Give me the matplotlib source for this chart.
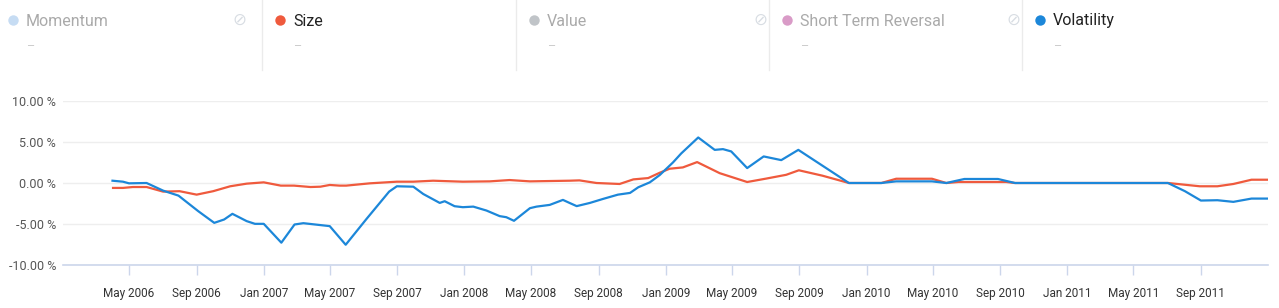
import matplotlib
matplotlib.use("Agg")
import matplotlib.pyplot as plt
import matplotlib.dates as mdates
import pandas as pd

# Size factor (red) - cumulative return in %
size_dates = ["2006-04-02", "2006-04-20", "2006-05-08", "2006-06-02", "2006-07-02", "2006-08-01",
              "2006-09-01", "2006-10-01", "2006-11-01", "2006-12-01", "2007-01-01", "2007-02-01",
              "2007-02-25", "2007-03-27", "2007-04-14", "2007-05-01", "2007-05-19", "2007-05-31",
              "2007-07-13", "2007-08-31", "2007-09-30", "2007-11-05", "2007-12-29", "2008-02-16",
              "2008-03-23", "2008-04-29", "2008-07-10", "2008-07-28", "2008-08-28", "2008-10-09",
              "2008-11-03", "2008-11-30", "2008-12-21", "2009-01-08", "2009-02-01", "2009-02-27",
              "2009-04-09", "2009-05-29", "2009-07-02", "2009-08-08", "2009-08-31", "2009-10-13",
              "2009-11-30", "2010-01-28", "2010-02-24", "2010-04-30", "2010-05-26", "2010-06-17",
              "2010-09-12", "2010-09-28", "2011-07-03", "2011-08-30", "2011-10-01", "2011-10-30",
              "2011-12-02", "2011-12-31"]
size_values = [-0.60, -0.60, -0.49, -0.49, -1.05, -1.00,
               -1.42, -1.00, -0.40, -0.08, 0.08, -0.32,
               -0.32, -0.49, -0.45, -0.24, -0.32, -0.32,
               -0.04, 0.16, 0.16, 0.28, 0.16, 0.20,
               0.36, 0.20, 0.28, 0.32, 0.00, -0.12,
               0.44, 0.60, 1.25, 1.74, 1.90, 2.55,
               1.20, 0.12, 0.53, 1.00, 1.55, 0.89,
               0.00, 0.00, 0.52, 0.52, 0.00, 0.12,
               0.12, 0.00, 0.00, -0.40, -0.40, -0.12,
               0.40, 0.40]

# Volatility factor (blue)
vol_dates = ["2006-04-01", "2006-04-20", "2006-05-01", "2006-06-02", "2006-07-02", "2006-07-30",
             "2006-09-04", "2006-10-03", "2006-10-21", "2006-11-05", "2006-12-01", "2006-12-16",
             "2007-01-01", "2007-02-02", "2007-02-26", "2007-03-14", "2007-05-01", "2007-05-30",
             "2007-07-07", "2007-08-17", "2007-08-31", "2007-09-30", "2007-10-18", "2007-11-17",
             "2007-11-26", "2007-12-14", "2007-12-29", "2008-01-17", "2008-02-10", "2008-03-05",
             "2008-03-17", "2008-03-31", "2008-04-29", "2008-05-11", "2008-06-04", "2008-06-28",
             "2008-07-10", "2008-07-23", "2008-08-16", "2008-09-09", "2008-10-06", "2008-10-28",
             "2008-11-12", "2008-12-03", "2008-12-21", "2009-01-14", "2009-01-29", "2009-03-01",
             "2009-03-31", "2009-04-15", "2009-04-30", "2009-05-29", "2009-06-28", "2009-07-30",
             "2009-08-30", "2009-11-30", "2010-01-28", "2010-02-24", "2010-04-30", "2010-05-26",
             "2010-06-28", "2010-08-28", "2010-09-28", "2011-07-03", "2011-08-03", "2011-09-01",
             "2011-10-01", "2011-10-30", "2011-12-02", "2011-12-31"]
vol_values = [0.28, 0.16, -0.04, 0.00, -0.93, -1.54,
              -3.44, -4.86, -4.45, -3.76, -4.65, -4.98,
              -4.98, -7.28, -5.06, -4.90, -5.26, -7.53,
              -4.37, -1.05, -0.40, -0.45, -1.34, -2.43,
              -2.22, -2.83, -2.95, -2.88, -3.36, -4.04,
              -4.17, -4.61, -3.07, -2.88, -2.67, -2.06,
              -2.43, -2.82, -2.43, -1.94, -1.42, -1.21,
              -0.52, 0.08, 0.97, 2.50, 3.60, 5.55,
              4.04, 4.13, 3.85, 1.82, 3.24, 2.79,
              4.04, 0.00, 0.00, 0.20, 0.20, 0.00,
              0.49, 0.49, 0.00, 0.00, -1.00, -2.14,
              -2.10, -2.30, -1.90, -1.90]

y_ticks = [-10, -5, 0, 5, 10]
x_ticks = pd.date_range("2006-05-01", "2011-09-01", freq="4MS")
legend_names = ["Momentum", "Size", "Value", "Short Term Reversal", "Volatility"]
legend_colors = ["#c6dcf3", "#ef5a3d", "#c0c4c8", "#d99bc7", "#1c87d9"]
legend_active = [False, True, False, False, True]

fig = plt.figure(figsize=(12.79, 3.08), dpi=100)
ax = fig.add_axes([63 / 1279, (308 - 265) / 308, (1268 - 63) / 1279, (265 - 101) / 308])

ax.plot(pd.to_datetime(size_dates), size_values, color=legend_colors[1], lw=1.6, zorder=3)
ax.plot(pd.to_datetime(vol_dates), vol_values, color=legend_colors[4], lw=1.6, zorder=4)

ax.set_xlim(pd.Timestamp("2006-01-01"), pd.Timestamp("2012-01-01"))
ax.set_ylim(-10, 10)
ax.set_yticks(y_ticks)
ax.set_yticklabels(["%.2f %%" % v for v in y_ticks], fontsize=9, color="#555555", family="Roboto")
ax.yaxis.grid(True, color="#eeeeee", lw=1)
ax.tick_params(axis="y", length=0, pad=5)

ax.set_xticks(x_ticks)
ax.xaxis.set_major_formatter(mdates.DateFormatter("%b %Y"))
ax.tick_params(axis="x", length=7.5, width=1, color="#ccd6eb", pad=8, labelsize=8.5, labelcolor="#333333")
for lbl in ax.get_xticklabels():
    lbl.set_family("Roboto")

for s in ["top", "right", "left"]:
    ax.spines[s].set_visible(False)
ax.spines["bottom"].set_color("#ccd6eb")
ax.spines["bottom"].set_linewidth(1.2)

# legend row on top
col_starts = [-5, 262, 516, 769, 1022]
for i, name in enumerate(legend_names):
    x0 = col_starts[i]
    tcolor = "#222222" if legend_active[i] else "#aaaaaa"
    fig.add_artist(plt.Line2D([(x0 + 18) / 1279], [1 - 20 / 308], marker="o", markersize=7.5,
                              color=legend_colors[i], markeredgewidth=0, linestyle="none"))
    fig.text((x0 + 31) / 1279, 1 - 21 / 308, name, color=tcolor, fontsize=11.5,
             ha="left", va="center", family="Roboto")
    fig.text((x0 + 31) / 1279, 1 - 47 / 308, "\u2013", color="#cccccc", fontsize=9,
             ha="left", va="center", family="Roboto")
    if not legend_active[i]:
        fig.text((x0 + 244) / 1279, 1 - 20 / 308, "\u2298", color="#d8dde3", fontsize=12,
                 ha="center", va="center", family="DejaVu Sans")
    if i > 0:
        fig.add_artist(plt.Line2D([x0 / 1279, x0 / 1279], [1 - 70 / 308, 1], color="#ebebeb", lw=1))

fig.savefig("out.png", dpi=100)
